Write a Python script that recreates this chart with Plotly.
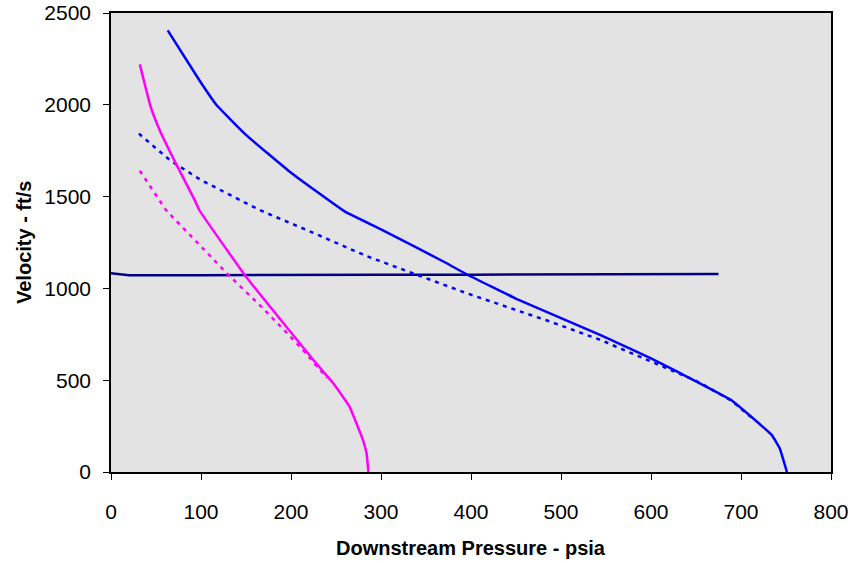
import plotly.graph_objects as go

# High-pressure case, solid blue
blue_solid_x = [63, 98, 117, 150, 200, 260, 300, 373, 395, 451, 544, 600, 633, 689, 734, 743, 751]
blue_solid_y = [2405, 2135, 2000, 1836, 1630, 1418, 1322, 1137, 1077, 942, 746, 619, 537, 392, 202, 129, 0]

# High-pressure case, dotted blue
blue_dot_x = [31, 66, 100, 165, 217, 284, 395, 488, 544, 600, 650, 690, 715]
blue_dot_y = [1843, 1696, 1590, 1427, 1319, 1176, 974, 819, 719, 601, 497, 387, 283]

# Low-pressure case, solid magenta
mag_solid_x = [32, 44, 54, 72, 93, 98, 150, 228, 247, 265, 280, 284, 286]
mag_solid_y = [2220, 1990, 1863, 1681, 1481, 1427, 1064, 592, 483, 356, 174, 101, 0]

# Low-pressure case, dotted magenta
mag_dot_x = [32, 54, 61, 128, 169, 210, 240]
mag_dot_y = [1641, 1481, 1427, 1086, 891, 683, 512]

# Sonic velocity line
sonic_x = [0, 20, 100, 200, 300, 400, 500, 560, 600, 675]
sonic_y = [1083, 1072, 1072, 1075, 1075, 1075, 1075, 1075, 1079, 1079]

fig = go.Figure()
LW = 2.5
fig.add_trace(go.Scatter(x=sonic_x, y=sonic_y, mode="lines",
                         line=dict(color="#000080", width=LW)))
fig.add_trace(go.Scatter(x=blue_dot_x, y=blue_dot_y, mode="lines",
                         line=dict(color="#0000FF", width=LW, dash="4px,5px")))
fig.add_trace(go.Scatter(x=mag_dot_x, y=mag_dot_y, mode="lines",
                         line=dict(color="#FF00FF", width=LW, dash="4px,5px")))
fig.add_trace(go.Scatter(x=blue_solid_x, y=blue_solid_y, mode="lines", line_shape="spline",
                         line=dict(color="#0000FF", width=LW, smoothing=0.3)))
fig.add_trace(go.Scatter(x=mag_solid_x, y=mag_solid_y, mode="lines", line_shape="spline",
                         line=dict(color="#FF00FF", width=LW, smoothing=0.3)))

FAM = "Liberation Sans, Arial, sans-serif"
fig.update_layout(
    width=851, height=563,
    margin=dict(l=111, r=20, t=13, b=91),
    paper_bgcolor="white", plot_bgcolor="#E3E3E3",
    showlegend=False,
    font=dict(family=FAM, size=21, color="black"),
    xaxis=dict(range=[0, 800], tickvals=[0, 100, 200, 300, 400, 500, 600, 700, 800],
               showgrid=False, zeroline=False, showline=True, linecolor="black",
               linewidth=1.5, mirror=True, ticks="outside", ticklen=6, tickcolor="black",
               automargin=False, ticklabelstandoff=14),
    yaxis=dict(range=[0, 2500], tickvals=[0, 500, 1000, 1500, 2000, 2500],
               showgrid=False, zeroline=False, showline=True, linecolor="black",
               linewidth=1.5, mirror=True, ticks="outside", ticklen=6, tickcolor="black",
               automargin=False, ticklabelstandoff=8),
    annotations=[
        dict(text="<b>Downstream Pressure - psia</b>", xref="paper", yref="paper",
             x=0.5, y=0, xanchor="center", yanchor="middle", yshift=-76,
             showarrow=False, font=dict(family=FAM, size=20, color="black")),
        dict(text="<b>Velocity - ft/s</b>", xref="paper", yref="paper",
             x=0, y=0.5, xanchor="center", yanchor="middle", xshift=-87.5,
             textangle=-90, showarrow=False, font=dict(family=FAM, size=20, color="black")),
    ],
)
fig.write_html("out.html", config={"displayModeBar": False},
               post_script="document.body.style.margin='0px';document.body.style.overflow='hidden';")
